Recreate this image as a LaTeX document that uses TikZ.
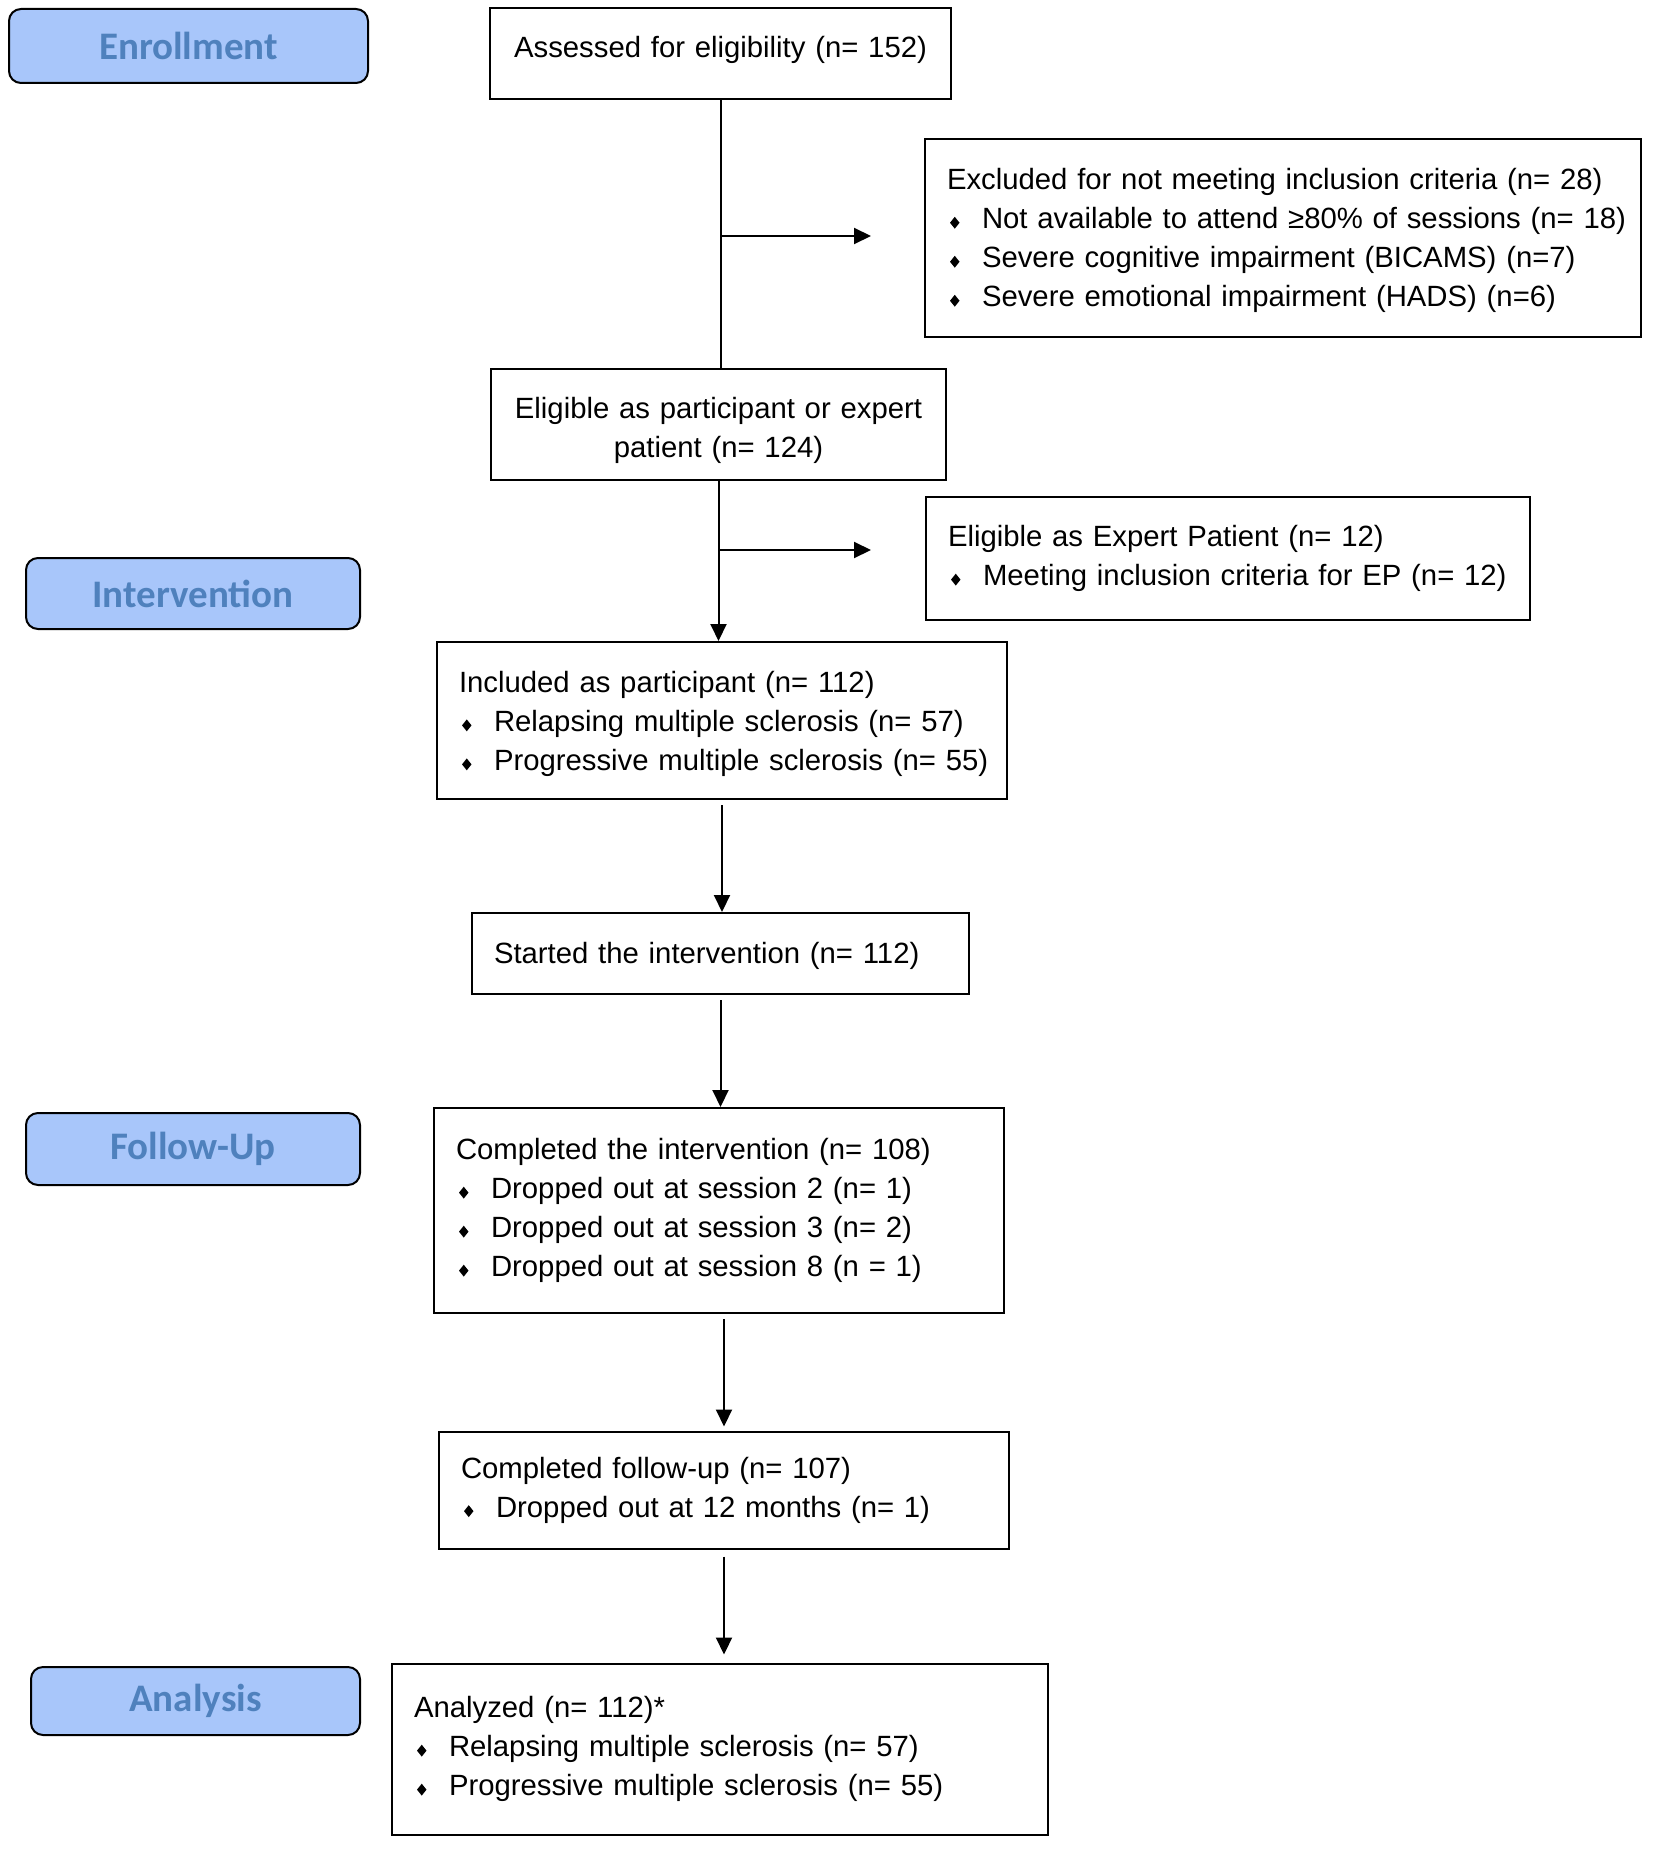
\documentclass[tikz,border=0pt]{standalone}
\usepackage{fontspec}
\usepackage{graphicx}
\setmainfont{Liberation Sans}
\newfontfamily\labfont{Carlito}
\usetikzlibrary{arrows.meta}
\definecolor{labfill}{RGB}{168,198,250}
\definecolor{labtext}{RGB}{79,129,189}
\newcommand\dia{\scalebox{0.8}[1]{\rotatebox{45}{\rule{4.2pt}{4.2pt}}}}
\newcommand\itm[1]{\mbox{\makebox[17.5pt][l]{\hspace{1.5pt}\dia}#1}}
\newcommand\shiftby[2]{\raisebox{#1}[\height][\depth]{#2}}
\begin{document}
\begin{tikzpicture}[x=0.5pt,y=-0.5pt,
 box/.style={draw=black,line width=1pt,rectangle,inner xsep=11pt,inner ysep=0pt,align=left,
   font=\fontsize{14.65pt}{19.5pt}\selectfont},
 lab/.style={draw=black,line width=1pt,rounded corners=6pt,fill=labfill,text=labtext,
   font=\labfont\bfseries\fontsize{19.5pt}{22pt}\selectfont,inner sep=0pt},
 arr/.style={line width=1pt,-{Triangle[length=8.5pt,width=8pt]}},
 ln/.style={line width=1pt}]
\useasboundingbox (0,0) rectangle (1654,1851);
% stage labels
\node[lab,minimum width=179.5pt,minimum height=37pt] (enr) at (188.5,46) {Enrollment};
\node[lab,minimum width=167pt,minimum height=35.5pt] (int) at (193,593.5) {Intervention};
\node[lab,minimum width=167pt,minimum height=36pt] (fol) at (193,1149) {Follow-Up};
\node[lab,minimum width=164.5pt,minimum height=34pt] (anl) at (195.5,1701) {Analysis};
% boxes
\node[box,align=center,text width=208.5pt,minimum height=45.5pt] (ass) at (720.5,53.5)
  {\shiftby{2pt}{Assessed for eligibility (n= 152)}};
\node[box,text width=336pt,minimum height=99pt] (exc) at (1283,238)
  {\shiftby{-1.2pt}{\begin{tabular}{@{}l@{}}Excluded for not meeting inclusion criteria (n= 28)\\
   \itm{Not available to attend ≥80\% of sessions (n= 18)}\\
   \itm{Severe cognitive impairment (BICAMS) (n=7)}\\
   \itm{Severe emotional impairment (HADS) (n=6)}\end{tabular}}};
\node[box,align=center,text width=205.5pt,minimum height=55.5pt] (elig) at (718.5,424.5)
  {\shiftby{-3pt}{\begin{tabular}{@{}c@{}}Eligible as participant or expert\\patient (n= 124)\end{tabular}}};
\node[box,text width=280pt,minimum height=61.5pt] (ep) at (1228,558.5)
  {\mbox{Eligible as Expert Patient (n= 12)}\\
   \itm{Meeting inclusion criteria for EP (n= 12)}};
\node[box,text width=263pt,minimum height=78.5pt] (inc) at (722,720.5)
  {\shiftby{-1.5pt}{\begin{tabular}{@{}l@{}}Included as participant (n= 112)\\
   \itm{Relapsing multiple sclerosis (n= 57)}\\
   \itm{Progressive multiple sclerosis (n= 55)}\end{tabular}}};
\node[box,text width=226.5pt,minimum height=40.5pt] (st) at (720.5,953.5)
  {\shiftby{-1pt}{Started the intervention (n= 112)}};
\node[box,text width=263pt,minimum height=102.5pt] (comp) at (719,1210.5)
  {\mbox{Completed the intervention (n= 108)}\\
   \itm{Dropped out at session 2 (n= 1)}\\
   \itm{Dropped out at session 3 (n= 2)}\\
   \itm{Dropped out at session 8 (n = 1)}};
\node[box,text width=263pt,minimum height=58.5pt] (fu) at (724,1490)
  {\mbox{Completed follow-up (n= 107)}\\
   \itm{Dropped out at 12 months (n= 1)}};
\node[box,text width=306pt,minimum height=85.5pt] (ana) at (720,1749)
  {\mbox{Analyzed (n= 112)*}\\
   \itm{Relapsing multiple sclerosis (n= 57)}\\
   \itm{Progressive multiple sclerosis (n= 55)}};
% connectors
\draw[ln] (ass.south) -- (ass.south |- elig.north);
\coordinate (j1) at (720,236);
\coordinate (e1) at (871,236);
\draw[arr] (j1) -- (e1);
\draw[arr] (elig.south) -- (elig.south |- inc.north);
\coordinate (j2) at (720,550);
\coordinate (e2) at (871,550);
\draw[arr] (j2) -- (e2);
\draw[arr] ([yshift=-2.5pt]inc.south) -- (inc.south |- st.north);
\draw[arr] ([yshift=-2.5pt]st.south) -- (st.south |- comp.north);
\draw[arr,shorten <=2.5pt,shorten >=2pt] (comp.south -| fu.north) -- (fu.north);
\draw[arr,shorten <=3.5pt,shorten >=4pt] (fu.south) -- (fu.south |- ana.north);
\end{tikzpicture}
\end{document}
